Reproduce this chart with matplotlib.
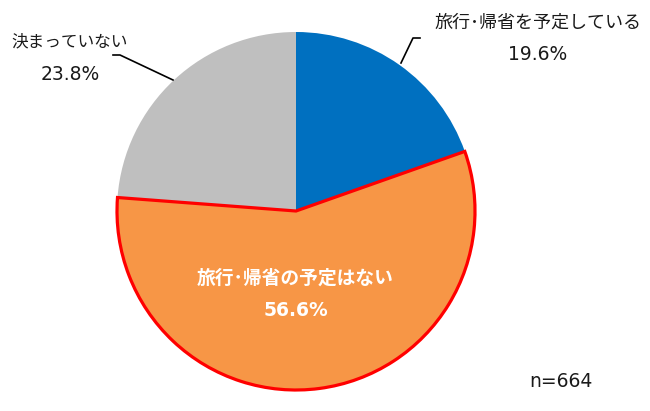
import matplotlib
matplotlib.use("Agg")
import matplotlib.pyplot as plt

plt.rcParams['font.family'] = ['Noto Sans CJK JP', 'DejaVu Sans']

labels = ["旅行･帰省を予定している", "旅行･帰省の予定はない", "決まっていない"]
values = [19.6, 56.6, 23.8]
colors = ["#0070C0", "#F79646", "#BFBFBF"]
n_text = "n=664"

W, H = 650, 411
fig = plt.figure(figsize=(W / 100, H / 100), dpi=100)
ax = fig.add_axes([0, 0, 1, 1])

cx, cy, r = 296, H - 211, 179
wedges, _ = ax.pie(values, colors=colors, startangle=90, counterclock=False,
                   center=(cx, cy), radius=r,
                   wedgeprops=dict(linewidth=0), frame=True)
wedges[1].set_edgecolor("#FF0000")
wedges[1].set_linewidth(2.3)
wedges[1].set_zorder(3)
ax.set_xlim(0, W)
ax.set_ylim(0, H)
ax.set_aspect('equal')
ax.axis('off')

def Y(y):
    return H - y

num_font = ['DejaVu Sans']
txt_col = '#1a1a1a'

# blue label
ax.text(538, Y(23), labels[0], ha='center', va='center', fontsize=13, color=txt_col)
ax.text(538, Y(55), f"{values[0]}%", ha='center', va='center', fontsize=13.5,
        color=txt_col, family=num_font)
ax.plot([401, 413, 420], [Y(63), Y(38), Y(38)], color='black', lw=1.2, zorder=4)

# gray label
ax.text(70, Y(42), labels[2], ha='center', va='center', fontsize=12, color=txt_col)
ax.text(70, Y(74), f"{values[2]}%", ha='center', va='center', fontsize=13.5,
        color=txt_col, family=num_font)
ax.plot([173, 120, 113], [Y(80), Y(55), Y(55)], color='black', lw=1.2, zorder=4)

# orange label
ax.text(295, Y(278), labels[1], ha='center', va='center', fontsize=13.5,
        color='white', fontweight='bold', zorder=5)
ax.text(296, Y(310), f"{values[1]}%", ha='center', va='center', fontsize=13.5,
        color='white', fontweight='bold', family=num_font, zorder=5)

ax.text(561, Y(381), n_text, ha='center', va='center', fontsize=13.5,
        color=txt_col, family=num_font)

fig.savefig("out.png", dpi=100)
